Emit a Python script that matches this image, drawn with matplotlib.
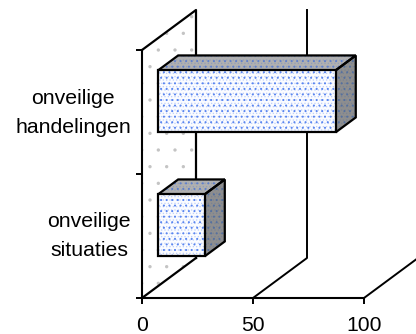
import matplotlib
matplotlib.use('Agg')
import matplotlib.pyplot as plt
from matplotlib.patches import Polygon

plt.rcParams['font.family'] = ['Liberation Sans', 'DejaVu Sans']

categories = ['onveilige\nsituaties', 'onveilige\nhandelingen']
values = [21, 80]
x_ticks = [0, 50, 100]

W, H = 416, 334
fig = plt.figure(figsize=(W / 100, H / 100), dpi=100)
ax = fig.add_axes([142 / W, 1 - 298 / H, 222 / W, 248 / H])
ax.set_xlim(0, 100)
ax.set_ylim(0, 2)
ax.patch.set_visible(False)
for s in ['top', 'right']:
    ax.spines[s].set_visible(False)
for s in ['left', 'bottom']:
    ax.spines[s].set_linewidth(1.5)

# depth of the 3d box, in data units
DX = 54 / 2.22
DY = 40 / 124


def proj(x, y, d):
    return (x + DX * d, y + DY * d)


def face(pts, fc, dot, zorder):
    ax.add_patch(Polygon(pts, closed=True, fc=fc, ec='none', zorder=zorder, clip_on=False))
    # pale lattice, then the stronger dots on top
    plt.rcParams['hatch.linewidth'] = 0.6
    ax.add_patch(Polygon(pts, closed=True, fill=False, ec=dot, alpha=0.3, lw=0, hatch='.....',
                         zorder=zorder, clip_on=False))
    plt.rcParams['hatch.linewidth'] = 0.7
    ax.add_patch(Polygon(pts, closed=True, fill=False, ec=dot, lw=0, hatch='...',
                         zorder=zorder, clip_on=False))
    ax.add_patch(Polygon(pts, closed=True, fill=False, ec='black', lw=1.6,
                         joinstyle='miter', zorder=zorder + 0.5, clip_on=False))


# back wall with sparse dots
plt.rcParams['hatch.linewidth'] = 0
wall = [proj(0, 0, 0), proj(0, 0, 1), proj(0, 2, 1), proj(0, 2, 0)]
ax.add_patch(Polygon(wall, closed=True, fill=False, ec='#c4c4c4', lw=0, hatch='.', zorder=1, clip_on=False))
ax.plot(*zip(proj(0, 0, 1), proj(0, 2, 1), proj(0, 2, 0)), color='black', lw=1.6, zorder=2, clip_on=False)

# grid lines on floor and back
ax.plot(*zip(proj(0, 0, 0), proj(0, 0, 1)), color='black', lw=1.6, zorder=2, clip_on=False)
for t in x_ticks[1:]:
    ax.plot(*zip(proj(t, 0, 0), proj(t, 0, 1), proj(t, 2, 1)), color='black', lw=1.4, zorder=2, clip_on=False)

# bars
d0, d1 = 0.30, 0.67
for i, v in enumerate(values):
    y0, y1 = i + 0.24, i + 0.74
    top = [proj(0, y1, d0), proj(v, y1, d0), proj(v, y1, d1), proj(0, y1, d1)]
    side = [proj(v, y0, d0), proj(v, y1, d0), proj(v, y1, d1), proj(v, y0, d1)]
    front = [proj(0, y0, d0), proj(v, y0, d0), proj(v, y1, d0), proj(0, y1, d0)]
    face(top, '#b0b0b0', '#5f80cc', 4)
    face(side, '#8e8e8e', '#55709f', 4)
    face(front, '#fbfcff', '#5a86f0', 5)

ax.set_xticks(x_ticks)
ax.set_yticks([0, 1, 2])
ax.set_yticklabels([])
ax.set_yticks([0.555, 1.55], minor=True)
ax.set_yticklabels(categories, minor=True, fontsize=15.3, ha='right', multialignment='center', linespacing=1.68)
ax.tick_params(axis='y', which='minor', length=0, pad=8)
ax.tick_params(axis='both', which='major', length=4, width=1.4)
ax.tick_params(axis='x', labelsize=15.2, pad=9)

fig.savefig('out.png', dpi=100)
